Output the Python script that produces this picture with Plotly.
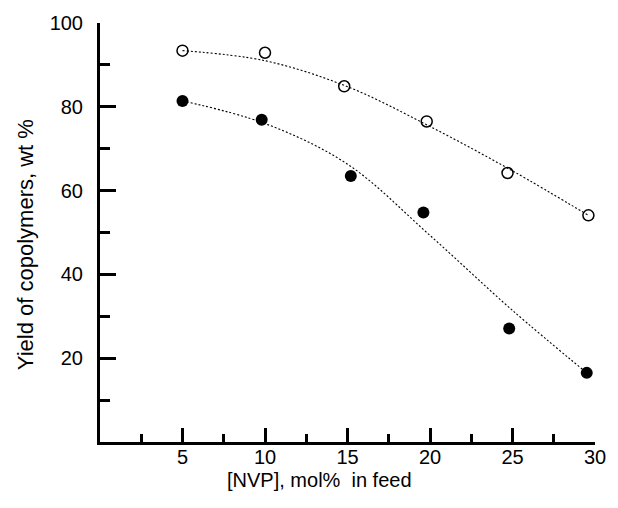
import plotly.graph_objects as go

# Measured data points
x_open = [5, 10, 14.8, 19.8, 24.7, 29.6]
y_open = [93.4, 92.9, 84.9, 76.5, 64.2, 54.1]
x_fill = [5, 9.8, 15.2, 19.6, 24.8, 29.5]
y_fill = [81.4, 76.9, 63.5, 54.8, 27.1, 16.5]

# Fitted curves
cx1 = [5, 10, 15, 20, 25, 29.6]
cy1 = [93.4, 91.0, 84.8, 75.3, 64.7, 54.1]
cx2 = [5, 10, 15, 20, 25, 29.5]
cy2 = [81.4, 76.0, 66.3, 49.3, 31.4, 16.5]

x_major = [5, 10, 15, 20, 25, 30]
x_minor = [2.5, 7.5, 12.5, 17.5, 22.5, 27.5]
y_major = [20, 40, 60, 80, 100]
y_minor = [10, 30, 50, 70, 90]

x_title = "[NVP], mol%&nbsp; in feed"
y_title = "Yield of copolymers, wt&nbsp;%"

FONT = "Liberation Sans, Arial, sans-serif"
FS = 20

fig = go.Figure()
for cx, cy in ((cx1, cy1), (cx2, cy2)):
    fig.add_trace(go.Scatter(x=cx, y=cy, mode="lines", cliponaxis=False,
                             line=dict(color="black", width=1.1, dash="2px,2px", shape="spline", smoothing=1.0),
                             hoverinfo="skip"))
fig.add_trace(go.Scatter(x=x_open, y=y_open, mode="markers", cliponaxis=False,
                         marker=dict(symbol="circle-open", size=11, color="black", line=dict(width=1.5, color="black"))))
fig.add_trace(go.Scatter(x=x_fill, y=y_fill, mode="markers", cliponaxis=False,
                         marker=dict(symbol="circle", size=12, color="black")))

fig.add_annotation(x=30.3, y=64.5, text="1", showarrow=False, xanchor="center", yanchor="middle",
                   font=dict(family=FONT, size=FS, color="black"))
fig.add_annotation(x=30.3, y=25.5, text="2", showarrow=False, xanchor="center", yanchor="middle",
                   font=dict(family=FONT, size=FS, color="black"))

# axis titles placed as annotations (paper coords; plot area spans 100..604 x 17..442 px)
fig.add_annotation(xref="paper", yref="paper", x=(323 - 100) / 504, y=-(481 - 442) / 425,
                   text=x_title, showarrow=False, xanchor="center", yanchor="middle",
                   font=dict(family=FONT, size=20, color="black"))
fig.add_annotation(xref="paper", yref="paper", x=-(100 - 24) / 504, y=(442 - 242) / 425,
                   text=y_title, showarrow=False, textangle=-90, xanchor="center", yanchor="middle",
                   font=dict(family=FONT, size=22, color="black"))

fig.update_layout(
    width=618, height=508,
    margin=dict(l=100, r=14, t=17, b=66),
    paper_bgcolor="white", plot_bgcolor="white",
    showlegend=False,
    font=dict(family=FONT, size=FS, color="black"),
)
fig.update_xaxes(range=[0, 30], showgrid=False, zeroline=False,
                 showline=True, linecolor="black", linewidth=3,
                 ticks="inside", tickvals=x_major, ticklen=14, tickwidth=3, tickcolor="black",
                 minor=dict(ticks="inside", tickvals=x_minor, ticklen=8, tickwidth=3, tickcolor="black"),
                 tickfont=dict(size=FS), ticklabelstandoff=-5)
fig.update_yaxes(range=[0, 100], showgrid=False, zeroline=False,
                 showline=True, linecolor="black", linewidth=3,
                 ticks="inside", tickvals=y_major, ticklen=16, tickwidth=3, tickcolor="black",
                 minor=dict(ticks="inside", tickvals=y_minor, ticklen=10, tickwidth=3, tickcolor="black"),
                 tickfont=dict(size=FS), ticklabelstandoff=10)

fig.write_html("out.html")
